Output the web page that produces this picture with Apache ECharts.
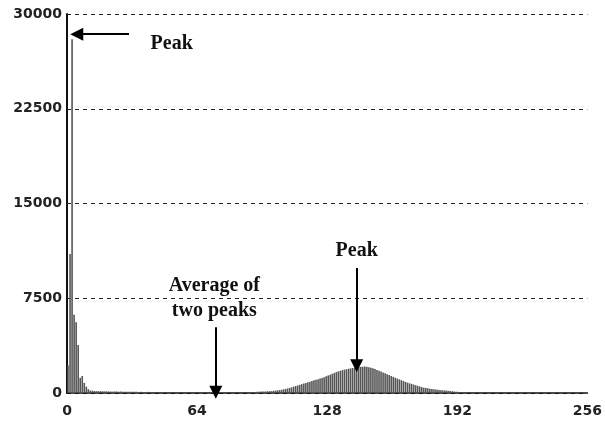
<!DOCTYPE html>
<html>
<head>
<meta charset="utf-8">
<script src="https://cdn.jsdelivr.net/npm/echarts@6/dist/echarts.min.js"></script>
<style>html,body{margin:0;padding:0;background:#fff}#c{width:605px;height:423px}</style>
</head>
<body>
<div id="c"></div>
<script>
// Histogram counts
const lowStart = 0;
const lowCounts = [2200, 11000, 28000, 6200, 5600, 3800, 1200, 1350, 800, 500, 300,
  200,180,160,150,150,140,140,130,130,120,120,110,120,110,100,110,100,100,90,100,
  90,90,100,90,80,90,80,80,90,80,70,80,0,0,0,0,0,0,80];
const bumpStart = 90;
const bumpCounts = [60,70,80,100,100,110,120,120,130,140,
  150,170,190,210,230,250,290,320,360,400,
  450,500,550,600,650,700,750,800,850,900,
  950,1000,1050,1090,1140,1180,1250,1320,1390,1450,
  1520,1590,1660,1710,1760,1810,1850,1880,1920,1950,
  1980,2000,2030,2060,2070,2080,2090,2070,2040,2000,
  1950,1890,1830,1770,1700,1630,1560,1490,1420,1350,
  1280,1210,1140,1080,1010,950,880,820,770,720,
  670,620,570,520,470,420,400,370,340,320,
  300,280,260,240,220,200,190,170,150,140,
  120,100,90,80,60];
const xTicks = [0, 64, 128, 192, 256];
const yTicks = [0, 7500, 15000, 22500, 30000];

// annotations (data coordinates)
const arrows = [
  {from: [30.5, 28400], to: [4.8, 28400]},
  {from: [142.5, 9900], to: [142.5, 2150]},
  {from: [73.2, 5200], to: [73.2, 60]}
];
const texts = [
  {at: [51.5, 27650], text: 'Peak'},
  {at: [142.5, 11250], text: 'Peak'},
  {at: [72.5, 8500], text: 'Average of'},
  {at: [72.5, 6500], text: 'two peaks'}
];

const data = [];
lowCounts.forEach((v, i) => { if (v > 0) data.push([lowStart + i + 0.5, v]); });
bumpCounts.forEach((v, i) => { if (v > 0) data.push([bumpStart + i + 0.5, v]); });

const chart = echarts.init(document.getElementById('c'), null, {renderer: 'canvas'});
chart.setOption({
  animation: false,
  backgroundColor: '#fff',
  grid: {left: 67, right: 13, top: 14, bottom: 30},
  xAxis: {
    type: 'value', min: xTicks[0], max: xTicks[xTicks.length - 1], interval: 64,
    axisLine: {show: true, lineStyle: {color: '#111', width: 1.5}},
    axisTick: {show: false},
    splitLine: {show: false},
    axisLabel: {margin: 11, color: '#222', fontFamily: 'DejaVu Sans', fontWeight: 'bold', fontSize: 14,
      formatter: v => String(v)}
  },
  yAxis: {
    type: 'value', min: yTicks[0], max: yTicks[yTicks.length - 1], interval: 7500,
    axisLine: {show: true, lineStyle: {color: '#111', width: 2}},
    axisTick: {show: false},
    splitLine: {show: true, lineStyle: {color: '#222', type: [4, 4], width: 1}},
    axisLabel: {margin: 5, color: '#222', fontFamily: 'DejaVu Sans', fontWeight: 'bold', fontSize: 14,
      formatter: v => String(v)}
  },
  series: [{
    type: 'bar',
    data: data,
    barWidth: 1.6,
    itemStyle: {color: '#555'},
    markLine: {
      silent: true,
      symbol: ['none', 'triangle'],
      symbolSize: 13,
      lineStyle: {color: '#000', width: 2, type: 'solid'},
      label: {show: false},
      data: arrows.map(a => [{coord: a.from}, {coord: a.to}])
    },
    markPoint: {
      silent: true,
      symbol: 'circle',
      symbolSize: 0,
      data: texts.map(t => ({
        coord: t.at,
        label: {show: true, position: 'inside', formatter: t.text, color: '#111',
          fontFamily: 'Liberation Serif', fontWeight: 'bold', fontSize: 20}
      }))
    }
  }]
});
</script>
</body>
</html>
